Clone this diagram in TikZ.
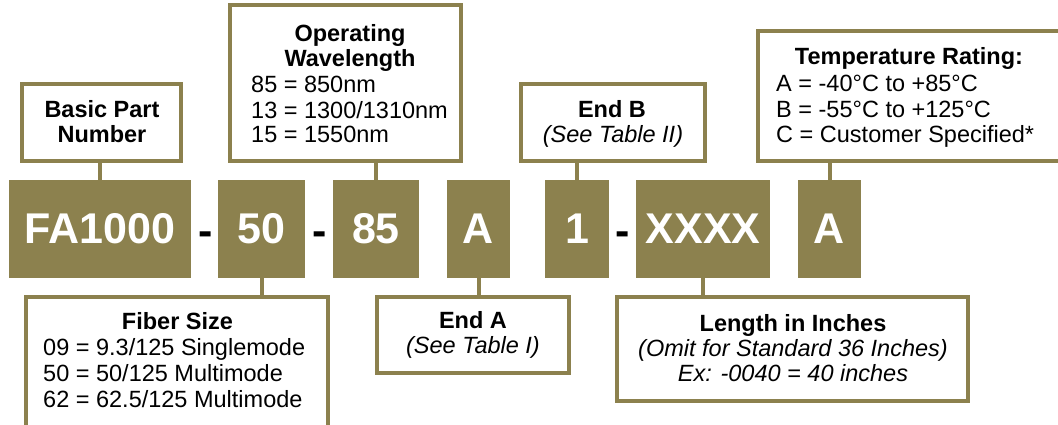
\documentclass[tikz,border=0pt]{standalone}
\usepackage{fontspec}
\setmainfont{Liberation Sans}
\definecolor{olive}{RGB}{140,129,78}
\tikzset{
  lbox/.style={draw=olive, line width=4pt, fill=white, inner sep=0pt},
  dbox/.style={fill=olive, inner sep=0pt},
  conn/.style={draw=olive, line width=4pt},
  big/.style={text=white, inner sep=0pt, font=\fontsize{43}{43}\selectfont\bfseries},
  hyph/.style={text=black, inner sep=0pt, anchor=base, font=\fontsize{43}{43}\selectfont\bfseries},
  hd/.style={inner sep=0pt, anchor=base, font=\fontsize{23.5}{26}\selectfont\bfseries},
  bd/.style={inner sep=0pt, anchor=base west, font=\fontsize{23.5}{26}\selectfont},
  it/.style={inner sep=0pt, anchor=base, font=\fontsize{23.5}{26}\selectfont\itshape},
}
\begin{document}
\begin{tikzpicture}[x=1pt,y=-1pt]
\clip (0,0) rectangle (1058,425);
% dark code boxes
\node[dbox, minimum width=182pt, minimum height=98pt] (fa) at (100,229) {};
\node[dbox, minimum width=87pt, minimum height=98pt] (n50) at (261.5,229) {};
\node[dbox, minimum width=86pt, minimum height=98pt] (n85) at (376,229) {};
\node[dbox, minimum width=63pt, minimum height=98pt] (na) at (478.5,229) {};
\node[dbox, minimum width=64pt, minimum height=98pt] (n1) at (577,229) {};
\node[dbox, minimum width=134pt, minimum height=98pt] (nx) at (703,229) {};
\node[dbox, minimum width=63pt, minimum height=98pt] (nt) at (829.5,229) {};
\node[big] (tfa) at (fa) {FA1000};
\node[big] (t50) at (n50) {50};
\node[big] (t85) at (n85) {85};
\node[big] (ta) at (na) {A};
\node[big] (t1) at (n1) {1};
\node[big] (tx) at (nx) {XXXX};
\node[big] (tt) at (nt) {A};
\node[hyph] (h1) at (206,245) {-};
\node[hyph] (h2) at (320,245) {-};
\node[hyph] (h3) at (623,245) {-};
% label boxes
\node[lbox, minimum width=159pt, minimum height=77pt] (basic) at (101.5,122.5) {};
\node[lbox, minimum width=231pt, minimum height=156pt] (wave) at (345.5,83) {};
\node[lbox, minimum width=184pt, minimum height=77pt] (endb) at (613,122.5) {};
\node[lbox, minimum width=312pt, minimum height=130pt] (temp) at (914,96) {};
\node[lbox, minimum width=302pt, minimum height=143pt] (fiber) at (177,368.5) {};
\node[lbox, minimum width=192pt, minimum height=76pt] (enda) at (473,335) {};
\node[lbox, minimum width=351pt, minimum height=104pt] (len) at (792.5,349) {};
% connectors
\draw[conn] (fa.north) -- (fa.north |- basic.south);
\draw[conn] (n85.north) -- (n85.north |- wave.south);
\draw[conn] (n1.north) -- (n1.north |- endb.south);
\draw[conn] (nt.north) -- (nt.north |- temp.south);
\draw[conn] (n50.south) -- (n50.south |- fiber.north);
\draw[conn] (na.south) -- (na.south |- enda.north);
\draw[conn] (nx.south) -- (nx.south |- len.north);
% texts
\node[hd] (b1) at (102,118) {Basic Part};
\node[hd] (b2) at (102,143) {Number};
\node[hd] (w1) at (350,42) {Operating};
\node[hd] (w2) at (350,67) {Wavelength};
\node[bd] (w3) at (251,93) {85 = 850nm};
\node[bd] (w4) at (251,119) {13 = 1300/1310nm};
\node[bd] (w5) at (251,143) {15 = 1550nm};
\node[hd] (e1) at (612,118) {End B};
\node[it] (e2) at (613,143) {(See Table II)};
\node[hd] (r1) at (909,65) {Temperature Rating:};
\node[bd] (r2) at (776,92) {A = -40°C to +85°C};
\node[bd] (r3) at (776,118) {B = -55°C to +125°C};
\node[bd] (r4) at (776,143) {C = Customer Specified*};
\node[hd] (f1) at (177.5,329) {Fiber Size};
\node[bd] (f2) at (43,355) {09 = 9.3/125 Singlemode};
\node[bd] (f3) at (43,381) {50 = 50/125 Multimode};
\node[bd] (f4) at (43,407) {62 = 62.5/125 Multimode};
\node[hd] (a1) at (473,328) {End A};
\node[it] (a2) at (473,353) {(See Table I)};
\node[hd] (l1) at (793,331) {Length in Inches};
\node[it] (l2) at (793,356) {(Omit for Standard 36 Inches)};
\node[it] (l3) at (793,381) {Ex: -0040 = 40 inches};
\end{tikzpicture}
\end{document}
